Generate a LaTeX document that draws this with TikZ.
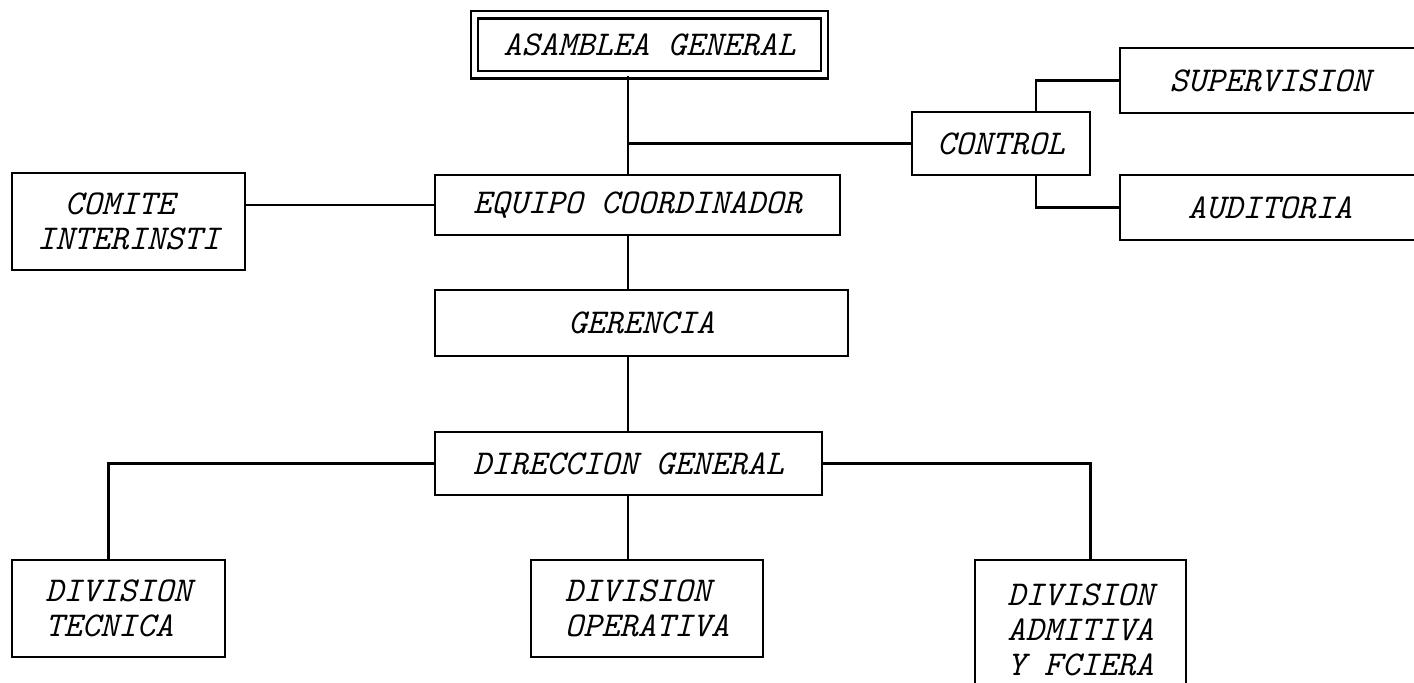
\documentclass[tikz,border=0pt]{standalone}
\usetikzlibrary{positioning}

\begin{document}
\begin{tikzpicture}[%
    box/.style = {rectangle, draw, line width = 1.1pt, inner sep = 0pt, align = left, font = \fontsize{17.4}{17.4}\selectfont\ttfamily\itshape},
    link/.style = {line width = 1.1pt},
    x = 0.5pt, y = -0.5pt]

    \useasboundingbox (0, 0) rectangle (1414, 683);
    \coordinate (spine) at (628, 0);

    \node[box, double, double distance = 2.5pt, minimum width = 175pt, minimum height = 30pt] (asamblea) at (649.5, 45) {ASAMBLEA GENERAL};
    \node[box, minimum width = 202.5pt, minimum height = 30pt] (equipo) at (637.5, 205) {EQUIPO COORDINADOR};
    \node[box, minimum width = 89pt, minimum height = 31.5pt] (control) at (1001, 143.5) {CONTROL};
    \node[box, minimum width = 150pt, minimum height = 32.5pt] (supervision) at (1270, 80.5) {SUPERVISION};
    \node[box, minimum width = 150pt, minimum height = 32.5pt] (auditoria) at (1270, 207.5) {AUDITORIA};
    \node[box, minimum width = 116.5pt, minimum height = 48.5pt] (comite) at (128.5, 221.5) {\hspace*{0.8em}COMITE\\INTERINSTI};
    \node[box, minimum width = 206.5pt, minimum height = 33pt] (gerencia) at (641.5, 323) {GERENCIA};
    \node[box, minimum width = 193.5pt, minimum height = 31.5pt] (direccion) at (628.5, 463.5) {DIRECCION GENERAL};
    \node[box, minimum width = 106.5pt, minimum height = 48.5pt] (tecnica) at (118.5, 608.5) {DIVISION\\TECNICA};
    \node[box, minimum width = 116pt, minimum height = 48.5pt] (operativa) at (647, 608.5) {DIVISION\\OPERATIVA};
    \node[box, minimum width = 105.5pt, minimum height = 70pt] (admitiva) at (1080.5, 630) {DIVISION\\ADMITIVA\\Y FCIERA};

    \draw[link] (asamblea.south -| spine) -- (equipo.north -| spine);
    \draw[link] (spine |- control.west) -- (control.west);
    \draw[link] ([xshift = 17.5pt]control.north) |- (supervision.west);
    \draw[link] ([xshift = 17.5pt]control.south) |- (auditoria.west);
    \draw[link] (equipo.west -| comite.east) -- (equipo.west);
    \draw[link] (equipo.south -| spine) -- (gerencia.north -| spine);
    \draw[link] (gerencia.south -| spine) -- (direccion.north -| spine);
    \draw[link] (direccion.west) -| ([xshift = -5pt]tecnica.north);
    \draw[link] (direccion.south -| spine) -- (operativa.north -| spine);
    \draw[link] (direccion.east) -| ([xshift = 5pt]admitiva.north);
\end{tikzpicture}
\end{document}
